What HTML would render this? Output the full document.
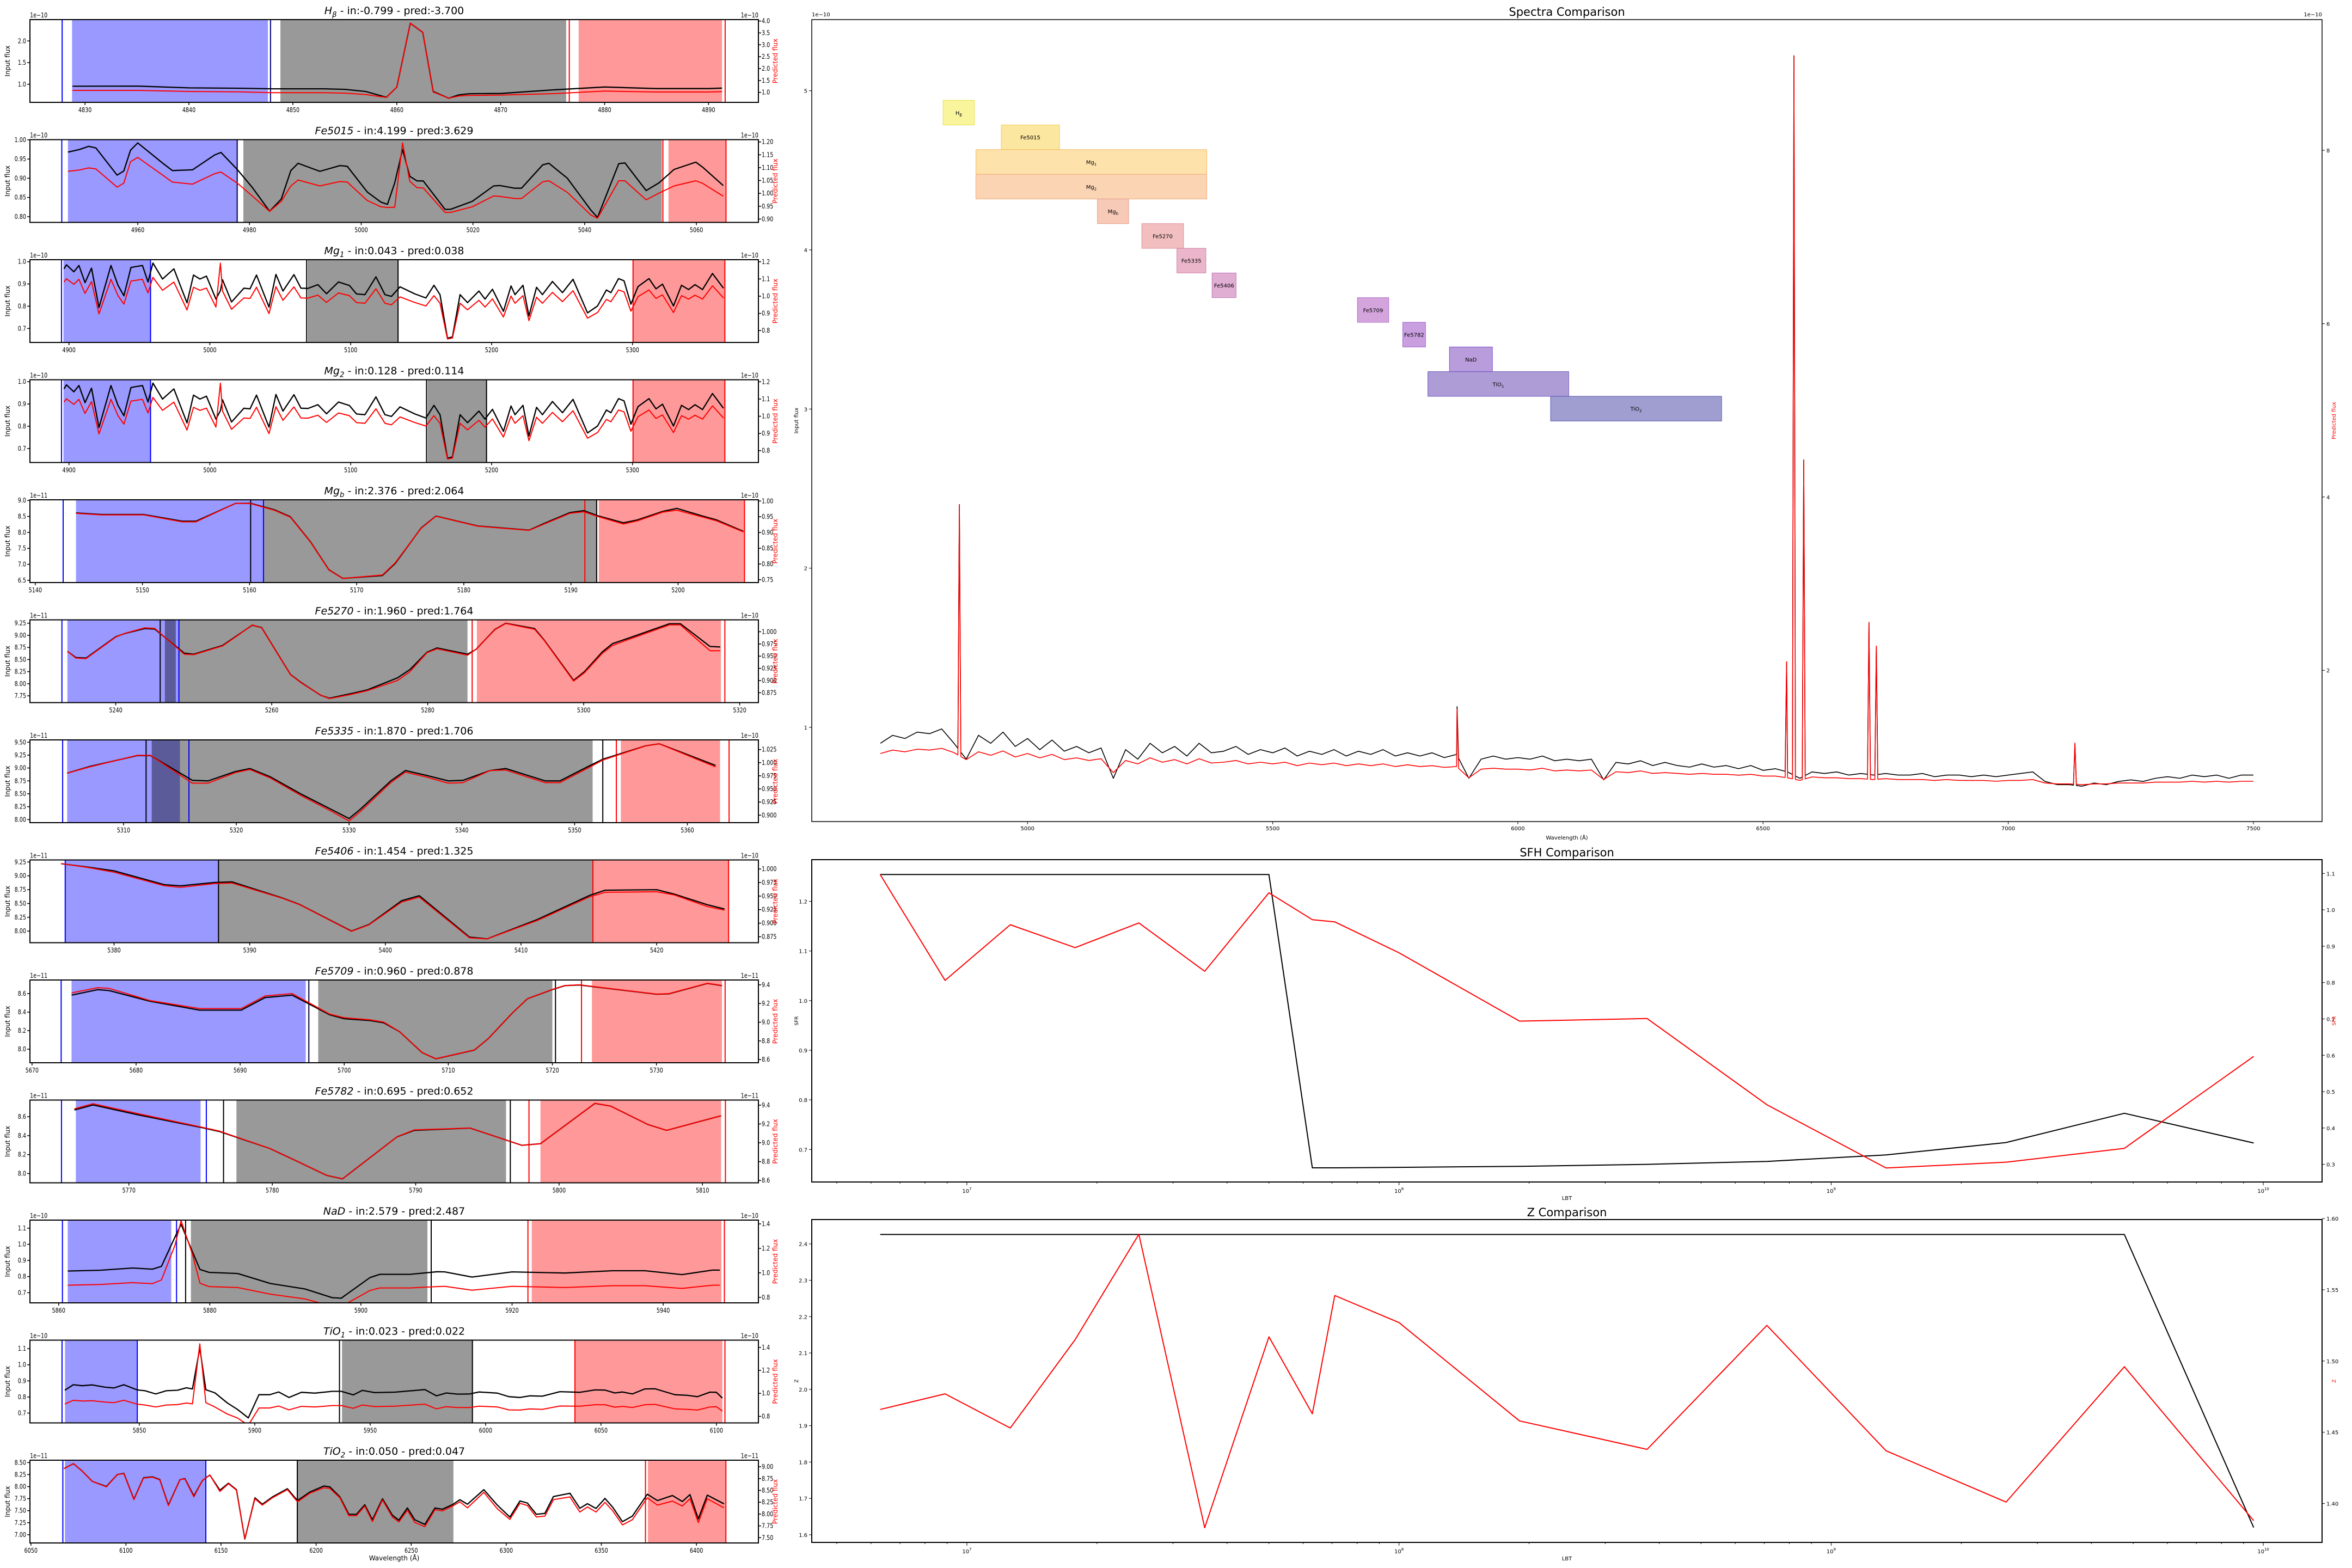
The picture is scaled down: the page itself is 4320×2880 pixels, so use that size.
<!DOCTYPE html>
<html><head><meta charset="utf-8"><title>Index comparison</title>
<style>html,body{margin:0;padding:0;background:#fff}svg{display:block}text{font-family:"DejaVu Sans","Liberation Sans",sans-serif}</style>
</head><body>
<svg id="fig" xmlns="http://www.w3.org/2000/svg" width="4320" height="2880" viewBox="0 0 4320 2880"><rect width="4320" height="2880" fill="#fff"/></svg>
<script>
// ---------- Left panel data ----------
const hbLam=[4828.8,4835,4840,4845,4848,4853,4855,4857,4859,4860,4861.3,4862.5,4863.5,4865,4866,4867,4870,4875,4880,4885,4890,4891.3];
const hbBlk=[0.954,0.958,0.916,0.908,0.895,0.895,0.883,0.833,0.699,0.933,2.41,2.20,0.833,0.678,0.757,0.782,0.787,0.870,0.937,0.900,0.900,0.912];
const hbRed=[1.084,1.084,1.038,1.023,0.985,0.985,0.970,0.909,0.787,1.221,3.909,3.529,1.015,0.756,0.848,0.871,0.886,0.947,1.053,1.015,1.015,1.030];
const feaLam=[4947.5,4949.6,4951.2,4952.5,4956.3,4957.5,4958.7,4960.0,4964.4,4966.2,4969.8,4973.8,4974.9,4977.8,4980.5,4983.6,4985.7,4987.4,4988.7,4992.6,4996.2,4997.5,5001.1,5003.5,5004.7,5006.0,5007.4,5008.7,5010.0,5011.1,5015.0,5016.0,5019.9,5023.7,5024.8,5027.5,5028.7,5032.5,5033.6,5036.9,5041.1,5042.3,5046.1,5047.2,5051.0,5053.3,5056.0,5059.9,5061.1,5064.8];
const feaBlk=[0.968,0.975,0.983,0.979,0.908,0.919,0.973,0.992,0.940,0.920,0.922,0.961,0.967,0.923,0.876,0.814,0.846,0.920,0.939,0.918,0.933,0.931,0.864,0.838,0.832,0.888,0.975,0.905,0.893,0.893,0.819,0.819,0.840,0.880,0.881,0.874,0.874,0.935,0.939,0.900,0.817,0.798,0.938,0.940,0.868,0.888,0.923,0.942,0.929,0.881];
const feaRed=[1.086,1.091,1.099,1.095,1.024,1.040,1.123,1.140,1.072,1.044,1.036,1.077,1.083,1.040,0.990,0.930,0.969,1.029,1.052,1.029,1.046,1.044,0.972,0.948,0.945,0.946,1.196,1.047,1.022,1.021,0.926,0.926,0.948,0.990,0.988,0.980,0.980,1.045,1.049,1.004,0.916,0.903,1.049,1.049,0.975,1.001,1.029,1.049,1.039,0.989];
const mgLam=[4896.5,4898.2,4903.5,4907.1,4911.4,4916.0,4921.3,4929.8,4934.8,4939.0,4944.0,4952.2,4956.1,4959.6,4966.4,4974.5,4983.8,4988.4,4993.0,4997.6,5004.3,5007.5,5009.0,5015.4,5024.2,5028.5,5033.1,5042.0,5046.9,5051.9,5059.7,5064.7,5069.7,5076.7,5082.8,5091.3,5099.1,5104.1,5110.1,5117.9,5124.3,5128.9,5135.0,5145.6,5153.4,5159.1,5163.4,5168.7,5172.2,5177.6,5182.9,5191.0,5195.3,5200.6,5208.4,5213.8,5216.6,5222.3,5226.5,5231.9,5236.1,5243.2,5250.3,5257.8,5268.1,5275.2,5281.5,5284.7,5290.1,5294.0,5298.9,5303.9,5311.7,5316.7,5321.3,5329.1,5334.8,5339.8,5344.4,5349.7,5356.8,5364.6];
const mgBlk=[0.968,0.986,0.955,0.983,0.906,0.971,0.794,0.983,0.894,0.847,0.974,0.983,0.909,0.994,0.922,0.968,0.815,0.940,0.922,0.935,0.832,0.870,0.919,0.819,0.881,0.878,0.940,0.796,0.943,0.868,0.942,0.881,0.880,0.897,0.856,0.909,0.893,0.855,0.852,0.932,0.852,0.844,0.887,0.855,0.837,0.894,0.852,0.656,0.662,0.852,0.816,0.868,0.832,0.876,0.777,0.891,0.852,0.894,0.756,0.885,0.852,0.911,0.861,0.921,0.770,0.801,0.873,0.861,0.924,0.914,0.809,0.888,0.924,0.878,0.899,0.801,0.894,0.875,0.897,0.875,0.947,0.881];
const mgRed=[1.082,1.101,1.069,1.098,1.016,1.085,0.897,1.098,1.003,0.954,1.088,1.098,1.019,1.109,1.034,1.082,0.920,1.052,1.034,1.047,0.937,1.192,1.030,0.924,0.990,0.987,1.052,0.899,1.055,0.976,1.054,0.990,0.989,1.006,0.964,1.019,1.003,0.963,0.959,1.043,0.959,0.950,0.996,0.963,0.943,1.003,0.959,0.751,0.757,0.959,0.921,0.976,0.937,0.984,0.879,1.001,0.959,1.003,0.858,0.994,0.959,1.022,0.968,1.032,0.872,0.905,0.981,0.968,1.036,1.025,0.913,0.997,1.036,0.987,1.008,0.905,1.003,0.983,1.006,0.983,1.060,0.990];
const mgbLam=[5143.8,5146.2,5150.1,5153.7,5155.0,5158.7,5160.1,5162.3,5163.8,5165.7,5167.4,5168.7,5172.4,5173.6,5176.0,5177.4,5181.3,5186.1,5187.5,5189.9,5191.2,5192.6,5194.9,5196.2,5198.6,5199.9,5202.2,5203.6,5206.1];
const mgbBlk=[8.61,8.56,8.56,8.35,8.35,8.91,8.91,8.71,8.49,7.70,6.83,6.56,6.65,7.03,8.13,8.51,8.20,8.07,8.28,8.62,8.68,8.51,8.30,8.39,8.66,8.75,8.52,8.39,8.03];
const mgbRed=[0.961,0.956,0.956,0.934,0.934,0.993,0.992,0.971,0.949,0.869,0.781,0.754,0.765,0.804,0.913,0.952,0.920,0.907,0.927,0.961,0.966,0.950,0.927,0.937,0.965,0.971,0.950,0.937,0.902];
const fe70Lam=[5233.8,5234.9,5236.2,5240.0,5241.2,5243.7,5245.0,5248.8,5250.0,5253.7,5255.6,5257.5,5258.7,5262.4,5263.9,5266.3,5267.4,5270.0,5272.2,5276.1,5277.7,5279.9,5281.2,5285.1,5286.2,5288.6,5290.0,5293.7,5294.9,5298.7,5300.1,5302.4,5303.7,5305.9,5311.0,5312.4,5316.2,5317.5];
const fe70Blk=[8.67,8.54,8.53,8.97,9.04,9.14,9.13,8.63,8.61,8.79,9.00,9.21,9.16,8.19,8.01,7.76,7.70,7.79,7.87,8.12,8.29,8.65,8.74,8.61,8.71,9.12,9.25,9.14,8.91,8.07,8.25,8.66,8.83,8.95,9.24,9.24,8.77,8.76];
const fe70Red=[0.960,0.946,0.945,0.989,0.997,1.008,1.007,0.954,0.953,0.971,0.992,1.014,1.008,0.912,0.894,0.870,0.863,0.871,0.879,0.900,0.918,0.957,0.965,0.952,0.964,1.004,1.017,1.005,0.983,0.899,0.916,0.956,0.972,0.985,1.014,1.014,0.961,0.961];
const fe35Lam=[5305.0,5307.0,5311.2,5312.4,5316.1,5317.5,5319.9,5321.2,5323.0,5325.7,5328.3,5330.0,5331.0,5333.7,5335.0,5336.8,5338.8,5340.1,5342.5,5343.9,5347.4,5348.7,5351.3,5352.5,5356.3,5357.5,5362.5];
const fe35Blk=[8.90,9.03,9.24,9.24,8.76,8.75,8.93,8.99,8.83,8.50,8.21,8.02,8.20,8.75,8.95,8.86,8.75,8.76,8.95,8.99,8.75,8.75,9.04,9.17,9.43,9.47,9.05];
const fe35Red=[0.980,0.992,1.014,1.014,0.961,0.961,0.981,0.987,0.971,0.938,0.909,0.889,0.907,0.962,0.982,0.973,0.961,0.962,0.985,0.986,0.962,0.962,0.991,1.005,1.032,1.036,0.992];
const fe06Lam=[5376.1,5378.0,5380.0,5383.7,5384.9,5387.4,5388.7,5392.4,5393.7,5397.5,5398.8,5401.2,5402.5,5406.2,5407.5,5411.2,5415.1,5416.2,5420.0,5421.3,5423.7,5425.0];
const fe06Blk=[9.22,9.16,9.09,8.84,8.82,8.88,8.89,8.60,8.48,8.00,8.12,8.55,8.64,7.89,7.86,8.21,8.65,8.74,8.75,8.67,8.48,8.40];
const fe06Red=[1.010,1.003,0.994,0.969,0.966,0.973,0.974,0.946,0.934,0.885,0.897,0.939,0.948,0.873,0.871,0.905,0.949,0.957,0.958,0.952,0.931,0.924];
const fe09Lam=[5673.8,5676.3,5677.4,5681.3,5686.1,5690.1,5692.4,5695.0,5698.6,5700.0,5702.5,5703.8,5705.3,5707.5,5708.8,5712.5,5713.8,5716.2,5717.6,5720.0,5721.2,5722.6,5730.0,5731.2,5734.9,5736.3];
const fe09Blk=[8.583,8.642,8.632,8.518,8.421,8.421,8.557,8.582,8.371,8.329,8.309,8.285,8.190,7.962,7.897,7.991,8.110,8.395,8.544,8.643,8.685,8.692,8.593,8.597,8.709,8.685];
const fe09Red=[9.314,9.370,9.363,9.233,9.146,9.146,9.282,9.306,9.087,9.048,9.026,9.001,8.900,8.673,8.609,8.703,8.821,9.104,9.252,9.351,9.393,9.400,9.301,9.306,9.417,9.393];
const fe82Lam=[5766.2,5767.5,5770.8,5775.0,5776.3,5779.8,5781.6,5783.8,5784.9,5788.7,5789.9,5793.8,5797.4,5798.7,5802.5,5803.6,5806.2,5807.5,5811.3];
const fe82Blk=[8.671,8.724,8.615,8.488,8.444,8.266,8.139,7.980,7.944,8.388,8.456,8.480,8.298,8.315,8.741,8.712,8.517,8.456,8.610];
const fe82Red=[9.361,9.415,9.304,9.169,9.125,8.941,8.813,8.654,8.617,9.064,9.137,9.157,8.973,8.990,9.420,9.390,9.194,9.133,9.287];
const nadLam=[5861.2,5865.5,5869.8,5872.4,5873.6,5875.4,5876.2,5877.7,5878.7,5879.9,5883.7,5888.0,5892.6,5896.2,5897.4,5901.2,5902.5,5906.5,5910.1,5911.1,5914.7,5920.0,5927.0,5933.3,5937.6,5942.5,5946.5,5947.5];
const nadBlk=[0.834,0.839,0.853,0.846,0.863,1.046,1.124,0.954,0.844,0.826,0.819,0.757,0.723,0.669,0.666,0.794,0.814,0.814,0.830,0.829,0.797,0.829,0.822,0.836,0.836,0.812,0.840,0.840];
const nadRed=[0.899,0.905,0.920,0.912,0.942,1.228,1.426,1.153,0.916,0.888,0.880,0.826,0.787,0.727,0.725,0.856,0.877,0.877,0.888,0.890,0.858,0.890,0.880,0.895,0.895,0.873,0.899,0.899];
const tio1Lam=[5817.7,5821.4,5825.3,5829.6,5835.1,5839.0,5843.3,5849.1,5852.4,5857.1,5861.7,5866.5,5870.4,5873.0,5876.2,5878.8,5882.7,5888.1,5892.5,5897.2,5901.8,5906.5,5910.4,5914.8,5920.2,5926.0,5933.6,5937.5,5942.7,5946.6,5952.0,5960.7,5973.7,5978.7,5983.0,5987.8,5993.2,5997.1,6005.1,6010.1,6014.9,6019.2,6024.6,6032.2,6040.9,6047.4,6051.7,6056.0,6059.3,6063.6,6069.0,6073.4,6082.0,6087.4,6091.8,6097.2,6100.0,6102.6];
const tio1Blk=[0.842,0.876,0.870,0.875,0.861,0.856,0.876,0.844,0.839,0.819,0.839,0.842,0.857,0.850,1.104,0.845,0.826,0.763,0.723,0.670,0.814,0.814,0.831,0.797,0.829,0.824,0.835,0.835,0.813,0.841,0.827,0.830,0.846,0.807,0.825,0.818,0.819,0.831,0.824,0.802,0.797,0.807,0.805,0.833,0.829,0.844,0.843,0.825,0.831,0.819,0.850,0.851,0.814,0.810,0.802,0.830,0.829,0.793];
const tio1Red=[0.907,0.940,0.933,0.936,0.924,0.919,0.940,0.906,0.899,0.882,0.899,0.902,0.916,0.909,1.431,0.919,0.882,0.820,0.786,0.723,0.873,0.873,0.890,0.856,0.887,0.882,0.894,0.894,0.870,0.899,0.885,0.889,0.906,0.865,0.884,0.877,0.877,0.889,0.882,0.856,0.855,0.865,0.861,0.890,0.889,0.901,0.901,0.880,0.887,0.877,0.901,0.904,0.865,0.861,0.855,0.882,0.884,0.846];
const tio2Lam=[6067.4,6072.4,6077.1,6082.3,6089.7,6095.5,6098.9,6104.2,6109.2,6113.9,6117.8,6122.3,6128.4,6131.0,6135.7,6140.2,6144.1,6149.4,6153.9,6158.1,6162.5,6167.8,6171.7,6177.0,6184.9,6190.2,6196.7,6204.1,6207.2,6212.5,6217.2,6221.2,6225.6,6229.6,6234.9,6240.1,6243.5,6248.0,6251.9,6257.2,6262.5,6266.4,6271.7,6275.6,6279.6,6288.2,6295.3,6301.9,6307.2,6311.1,6315.8,6320.3,6324.8,6333.5,6338.7,6342.7,6347.2,6351.9,6355.9,6361.1,6366.3,6374.2,6379.5,6387.4,6392.6,6396.6,6401.0,6405.7,6414.5];
const tio2Blk=[8.375,8.477,8.318,8.109,8.002,8.253,8.275,7.736,8.184,8.203,8.146,7.615,8.146,8.165,7.804,8.127,8.241,7.926,8.070,7.937,6.910,7.767,7.633,7.785,7.956,7.709,7.888,8.013,7.994,7.785,7.424,7.424,7.622,7.310,7.747,7.405,7.302,7.557,7.310,7.215,7.557,7.530,7.625,7.728,7.633,7.937,7.614,7.367,7.701,7.659,7.424,7.443,7.793,7.861,7.550,7.645,7.546,7.755,7.576,7.272,7.386,7.842,7.709,7.815,7.690,7.834,7.329,7.823,7.641];
const tio2Red=[8.961,9.066,8.903,8.691,8.575,8.838,8.853,8.304,8.760,8.780,8.722,8.177,8.730,8.741,8.362,8.710,8.826,8.478,8.641,8.505,7.474,8.324,8.189,8.343,8.517,8.258,8.440,8.556,8.544,8.343,7.964,7.964,8.169,7.841,8.297,7.937,7.833,8.080,7.821,7.733,8.092,8.065,8.169,8.258,8.131,8.459,8.111,7.887,8.227,8.181,7.937,7.957,8.304,8.362,8.042,8.150,8.042,8.247,8.073,7.771,7.879,8.343,8.189,8.274,8.169,8.324,7.821,8.324,8.131];

const titleSym=[['H','β'],['Fe5015',''],['Mg','1'],['Mg','2'],['Mg','b'],['Fe5270',''],['Fe5335',''],['Fe5406',''],['Fe5709',''],['Fe5782',''],['NaD',''],['TiO','1'],['TiO','2']];
const titleIn=['-0.799','4.199','0.043','0.128','2.376','1.960','1.870','1.454','0.960','0.695','2.579','0.023','0.050'];
const titlePred=['-3.700','3.629','0.038','0.114','2.064','1.764','1.706','1.325','0.878','0.652','2.487','0.022','0.047'];

// ---------- Right column data ----------
const specBlk=[0.90,0.95,0.93,0.97,0.96,0.99,0.90,0.80,0.95,0.90,0.97,0.88,0.93,0.86,0.92,0.85,0.88,0.84,0.87,0.68,0.86,0.80,0.90,0.84,0.88,0.82,0.90,0.84,0.85,0.88,0.83,0.86,0.84,0.87,0.82,0.85,0.83,0.86,0.82,0.85,0.83,0.86,0.82,0.84,0.82,0.84,0.81,0.83,0.68,0.80,0.82,0.80,0.81,0.80,0.82,0.79,0.80,0.79,0.80,0.67,0.78,0.77,0.79,0.76,0.78,0.76,0.75,0.77,0.75,0.76,0.74,0.76,0.73,0.74,0.72,0.68,0.72,0.71,0.72,0.70,0.71,0.70,0.71,0.70,0.70,0.71,0.69,0.70,0.70,0.69,0.70,0.69,0.70,0.71,0.72,0.66,0.64,0.64,0.63,0.65,0.64,0.66,0.67,0.66,0.68,0.69,0.68,0.70,0.69,0.70,0.68,0.70,0.70];
const specRed=[1.04,1.08,1.06,1.09,1.08,1.10,1.05,0.97,1.06,1.02,1.07,1.00,1.04,0.99,1.03,0.97,0.99,0.96,0.98,0.82,0.96,0.92,0.99,0.94,0.97,0.92,0.98,0.93,0.94,0.96,0.92,0.94,0.92,0.94,0.90,0.93,0.91,0.93,0.90,0.92,0.90,0.92,0.89,0.91,0.89,0.90,0.88,0.89,0.76,0.86,0.87,0.86,0.86,0.85,0.87,0.84,0.85,0.84,0.85,0.74,0.83,0.82,0.84,0.81,0.82,0.81,0.80,0.81,0.80,0.80,0.79,0.80,0.78,0.78,0.76,0.73,0.77,0.76,0.76,0.75,0.75,0.74,0.75,0.74,0.74,0.74,0.73,0.74,0.73,0.73,0.73,0.72,0.73,0.73,0.74,0.70,0.69,0.69,0.68,0.69,0.69,0.70,0.70,0.70,0.71,0.71,0.71,0.72,0.71,0.72,0.71,0.72,0.72];
const lineLam=[4861,5876,6548,6563,6583,6716,6731,7136];
const lineBlk=[2.40,1.13,1.41,5.22,2.68,1.66,1.51,0.90];
const lineRed=[3.91,1.55,2.10,9.09,4.43,2.55,2.28,1.16];
const idxNames=[['H','β'],['Fe5015',''],['Mg','1'],['Mg','2'],['Mg','b'],['Fe5270',''],['Fe5335',''],['Fe5406',''],['Fe5709',''],['Fe5782',''],['NaD',''],['TiO','1'],['TiO','2']];
const idxStart=[4827.8,4946.4,4894.7,4894.7,5142.6,5233.1,5304.6,5376.4,5672.8,5765.3,5860.5,5816.5,6066.8];
const idxEnd=[4891.6,5065.2,5365.4,5365.4,5206.2,5318.1,5363.7,5425.3,5736.6,5811.6,5948.1,6103.7,6415.5];
const idxRow=[0,1,2,3,4,5,6,7,8,9,10,11,12];
const idxColor=['#f8f59c','#fbe79f','#fde2ab','#fbd4b4','#f7c9b7','#f2bfc0','#ebb6ca','#e0add3','#d4a4dc','#c99fdf','#b99cdc','#ae9cd6','#a09ed0'];
const idxEdge=['#e6e04a','#f0cc55','#f5b860','#f0a878','#e89a8a','#e08a94','#d080a8','#c078b8','#b070c8','#9a60cc','#7f50c8','#6e55c0','#5656b0'];

const lbt=[6.3e6,8.9e6,1.26e7,1.78e7,2.5e7,3.55e7,5.0e7,6.3e7,7.1e7,1.0e8,1.9e8,3.75e8,7.1e8,1.34e9,2.54e9,4.77e9,9.5e9];
const sfhIn=[1.254,1.254,1.254,1.254,1.254,1.254,1.254,0.663,0.663,0.664,0.666,0.670,0.676,0.689,0.714,0.773,0.713];
const sfhPred=[1.097,0.806,0.959,0.896,0.964,0.831,1.047,0.973,0.967,0.882,0.694,0.701,0.464,0.290,0.306,0.344,0.597];
const zIn=[2.426,2.426,2.426,2.426,2.426,2.426,2.426,2.426,2.426,2.426,2.426,2.426,2.426,2.426,2.426,2.426,1.620];
const zPred=[1.466,1.477,1.453,1.515,1.589,1.383,1.517,1.463,1.546,1.527,1.458,1.438,1.525,1.437,1.401,1.496,1.388];

// ---------- helpers ----------
const NS='http://www.w3.org/2000/svg';
const svg=document.getElementById('fig');
function mk(tag,attrs,name,parent){
  const el=document.createElementNS(NS,tag);
  for(const k in attrs) el.setAttribute(k,attrs[k]);
  
  
  (parent||svg).appendChild(el);
  return el;
}
function txt(x,y,s,o,name,parent){
  const t=mk('text',{x:x,y:y,'font-size':o.size||12,fill:o.fill||'#000','text-anchor':o.anchor||'start'},name,parent);
  if(o.rot) t.setAttribute('transform','rotate('+o.rot+' '+x+' '+y+')');
  if(o.cond){t.setAttribute('x',0);t.setAttribute('y',0);t.setAttribute('transform','translate('+x+' '+y+') scale('+o.cond+' 1)');t.setAttribute('font-family','"Liberation Sans",sans-serif');}
  t.textContent=s;
  return t;
}
function symText(x,y,sym,rest,size,anchor,name,parent,italic){
  const t=mk('text',{x:x,y:y,'font-size':size,'text-anchor':anchor||'middle'},name,parent);
  const a=document.createElementNS(NS,'tspan');a.textContent=sym[0];if(italic)a.setAttribute('font-style','italic');t.appendChild(a);
  if(sym[1]){const b=document.createElementNS(NS,'tspan');b.textContent=sym[1];b.setAttribute('font-size',size*0.7);b.setAttribute('dy',size*0.25);if(italic)b.setAttribute('font-style','italic');t.appendChild(b);
    if(rest){const c=document.createElementNS(NS,'tspan');c.textContent=rest;c.setAttribute('dy',-size*0.25);t.appendChild(c);}}
  else if(rest){const c=document.createElementNS(NS,'tspan');c.textContent=rest;t.appendChild(c);}
  return t;
}
function rng(a,b,s){const r=[];for(let v=a;v<=b+s*1e-6;v+=s)r.push(Math.round(v*1e6)/1e6);return r;}
let clipN=0;
function clip(x,y,w,h){const id='c'+(clipN++);const cp=mk('clipPath',{id:id},'clip-region');mk('rect',{x:x,y:y,width:w,height:h},'clip-rect',cp);return 'url(#'+id+')';}
function poly(xs,ys,fx,fy,stroke,sw,name,parent,cp){
  const n=Math.min(xs.length,ys.length);let d='';
  for(let i=0;i<n;i++)d+=(i?'L':'M')+fx(xs[i]).toFixed(1)+' '+fy(ys[i]).toFixed(1);
  const p=mk('path',{d:d,fill:'none',stroke:stroke,'stroke-width':sw,'stroke-linejoin':'round'},name,parent);
  if(cp)p.setAttribute('clip-path',cp);
  return p;
}

// ---------- left panels ----------
const B='#9999ff',G='#999999',Rd='#ff9999',D='#5b5b9a';
const panels=[
 {lam:hbLam,blk:hbBlk,red:hbRed,xlim:[4824.7,4894.8],xt:rng(4830,4890,10),yl:[0.582,2.494],ylt:[1.0,1.5,2.0],yr:[0.58,4.06],yrt:rng(1,4,0.5),dl:1,dr:1,ol:'1e−10',or:'1e−10',
  rects:[[4828.75,4847.6,B],[4848.8,4876.3,G],[4877.5,4891.3,Rd]],vl:[[4827.8,'#0000ff'],[4847.85,'#000080'],[4876.6,'#ff0000'],[4891.6,'#ff0000']]},
 {lam:feaLam,blk:feaBlk,red:feaRed,xlim:[4940.7,5071.1],xt:rng(4960,5060,20),yl:[0.785,1.0005],ylt:rng(0.8,1.0,0.05),yr:[0.887,1.209],yrt:rng(0.9,1.2,0.05),dl:2,dr:2,ol:'1e−10',or:'1e−10',
  rects:[[4947.5,4977.8,B],[4978.9,5053.8,G],[5055.0,5065.2,Rd]],vl:[[4946.4,'#0000ff'],[4977.8,'#000040'],[5054.0,'#ff0000'],[5065.3,'#ff0000']]},
 {lam:mgLam,blk:mgBlk,red:mgRed,xlim:[4872.3,5389.4],xt:rng(4900,5300,100),yl:[0.637,1.009],ylt:rng(0.7,1.0,0.1),yr:[0.731,1.212],yrt:rng(0.8,1.2,0.1),dl:1,dr:1,ol:'1e−10',or:'1e−10',
  rects:[[4896.1,4957.9,B],[5069.4,5133.6,G],[5300.4,5365.4,Rd]],vl:[[4894.7,'#0000ff'],[4957.9,'#0000ff'],[5068.7,'#000000'],[5133.6,'#000000'],[5300.4,'#ff0000'],[5365.6,'#ff0000']]},
 {lam:mgLam,blk:mgBlk,red:mgRed,xlim:[4872.3,5389.4],xt:rng(4900,5300,100),yl:[0.637,1.009],ylt:rng(0.7,1.0,0.1),yr:[0.731,1.212],yrt:rng(0.8,1.2,0.1),dl:1,dr:1,ol:'1e−10',or:'1e−10',
  rects:[[4896.1,4957.9,B],[5154.5,5196.4,G],[5300.4,5365.4,Rd]],vl:[[4894.7,'#0000ff'],[4957.9,'#0000ff'],[5153.8,'#000000'],[5196.4,'#000000'],[5300.4,'#ff0000'],[5365.6,'#ff0000']]},
 {lam:mgbLam,blk:mgbBlk,red:mgbRed,xlim:[5139.5,5207.5],xt:rng(5140,5200,10),yl:[6.43,9.02],ylt:rng(6.5,9.0,0.5),yr:[0.741,1.004],yrt:rng(0.75,1.0,0.05),dl:1,dr:2,ol:'1e−11',or:'1e−10',
  rects:[[5143.8,5161.3,B],[5161.3,5192.4,G],[5192.6,5206.2,Rd]],vl:[[5142.6,'#0000ff'],[5160.1,'#000000'],[5161.3,'#0000ff'],[5191.3,'#ff0000'],[5192.4,'#000000'],[5206.2,'#ff0000']]},
 {lam:fe70Lam,blk:fe70Blk,red:fe70Red,xlim:[5229.0,5322.4],xt:rng(5240,5320,20),yl:[7.61,9.32],ylt:rng(7.75,9.25,0.25),yr:[0.8548,1.0244],yrt:rng(0.875,1.0,0.025),dl:2,dr:3,ol:'1e−11',or:'1e−10',
  rects:[[5233.8,5248.1,B],[5248.1,5285.1,G],[5246.3,5247.7,D],[5286.3,5317.6,Rd]],vl:[[5233.1,'#0000ff'],[5245.7,'#000000'],[5248.1,'#0000ff'],[5285.7,'#ff0000'],[5318.1,'#ff0000']]},
 {lam:fe35Lam,blk:fe35Blk,red:fe35Red,xlim:[5301.7,5366.3],xt:rng(5310,5360,10),yl:[7.94,9.545],ylt:rng(8.0,9.5,0.25),yr:[0.8858,1.0434],yrt:rng(0.9,1.025,0.025),dl:2,dr:3,ol:'1e−11',or:'1e−10',
  rects:[[5305.0,5315.0,B],[5315.0,5351.6,G],[5312.5,5315.0,D],[5354.1,5362.9,Rd]],vl:[[5304.6,'#0000ff'],[5312.0,'#000000'],[5315.8,'#0000ff'],[5352.5,'#000000'],[5353.7,'#ff0000'],[5363.7,'#ff0000']]},
 {lam:fe06Lam,blk:fe06Blk,red:fe06Red,xlim:[5373.8,5427.5],xt:rng(5380,5420,10),yl:[7.79,9.2875],ylt:rng(8.0,9.25,0.25),yr:[0.864,1.0166],yrt:rng(0.875,1.0,0.025),dl:2,dr:3,ol:'1e−11',or:'1e−10',
  rects:[[5376.4,5387.7,B],[5387.7,5415.3,G],[5415.3,5425.3,Rd]],vl:[[5376.4,'#0000ff'],[5387.7,'#000000'],[5415.3,'#ff0000'],[5425.3,'#ff0000']]},
 {lam:fe09Lam,blk:fe09Blk,red:fe09Red,xlim:[5669.8,5739.8],xt:rng(5670,5730,10),yl:[7.854,8.746],ylt:rng(8.0,8.6,0.2),yr:[8.566,9.452],yrt:rng(8.6,9.4,0.2),dl:1,dr:1,ol:'1e−11',or:'1e−11',
  rects:[[5673.8,5696.3,B],[5697.5,5720.0,G],[5723.8,5736.3,Rd]],vl:[[5672.8,'#0000ff'],[5696.6,'#000040'],[5720.3,'#000000'],[5722.8,'#ff0000'],[5736.6,'#ff0000']]},
 {lam:fe82Lam,blk:fe82Blk,red:fe82Red,xlim:[5763.1,5813.9],xt:rng(5770,5810,10),yl:[7.902,8.776],ylt:rng(8.0,8.6,0.2),yr:[8.575,9.454],yrt:rng(8.6,9.4,0.2),dl:1,dr:1,ol:'1e−11',or:'1e−11',
  rects:[[5766.3,5775.0,B],[5777.5,5796.3,G],[5798.7,5811.3,Rd]],vl:[[5765.3,'#0000ff'],[5775.4,'#0000ff'],[5776.6,'#000000'],[5796.6,'#000000'],[5797.9,'#ff0000'],[5811.6,'#ff0000']]},
 {lam:nadLam,blk:nadBlk,red:nadRed,xlim:[5856.2,5952.6],xt:rng(5860,5940,20),yl:[0.637,1.15],ylt:rng(0.7,1.1,0.1),yr:[0.755,1.431],yrt:rng(0.8,1.4,0.2),dl:1,dr:1,ol:'1e−10',or:'1e−10',
  rects:[[5861.2,5874.9,B],[5877.5,5908.8,G],[5922.6,5947.7,Rd]],vl:[[5860.5,'#0000ff'],[5875.6,'#0000ff'],[5876.8,'#000000'],[5909.3,'#000000'],[5922.1,'#ff0000'],[5948.1,'#ff0000']]},
 {lam:tio1Lam,blk:tio1Blk,red:tio1Red,xlim:[5802.6,6118.2],xt:rng(5850,6100,50),yl:[0.639,1.153],ylt:rng(0.7,1.1,0.1),yr:[0.743,1.463],yrt:rng(0.8,1.4,0.2),dl:1,dr:1,ol:'1e−10',or:'1e−10',
  rects:[[5817.8,5849.1,B],[5937.8,5994.3,G],[6038.7,6102.6,Rd]],vl:[[5816.5,'#0000ff'],[5849.1,'#0000ff'],[5936.7,'#000000'],[5994.3,'#000000'],[6038.7,'#ff0000'],[6103.7,'#ff0000']]},
 {lam:tio2Lam,blk:tio2Blk,red:tio2Red,xlim:[6049.5,6432.6],xt:rng(6050,6400,50),yl:[6.829,8.549],ylt:rng(7.0,8.5,0.25),yr:[7.388,9.139],yrt:rng(7.5,9.0,0.25),dl:2,dr:2,ol:'1e−11',or:'1e−11',
  rects:[[6067.9,6142.0,B],[6190.1,6272.2,G],[6374.5,6415.5,Rd]],vl:[[6066.8,'#0000ff'],[6142.0,'#0000ff'],[6190.1,'#000000'],[6373.2,'#ff0000'],[6415.5,'#ff0000']]}
];
panels.forEach((p,i)=>{
  const L=55,R=1393,T=36+i*220.5,Bt=T+152;
  const g=mk('g',{},'index-panel-'+i);
  const fx=v=>L+(v-p.xlim[0])/(p.xlim[1]-p.xlim[0])*(R-L);
  const fyl=v=>Bt-(v-p.yl[0])/(p.yl[1]-p.yl[0])*(Bt-T);
  const fyr=v=>Bt-(v-p.yr[0])/(p.yr[1]-p.yr[0])*(Bt-T);
  const cp=clip(L,T,R-L,Bt-T);
  p.rects.forEach(r=>{const e=mk('rect',{x:fx(r[0]),y:T,width:Math.max(0,fx(r[1])-fx(r[0])),height:Bt-T,fill:r[2]},'passband',g);e.setAttribute('clip-path',cp);});
  p.vl.forEach(v=>mk('line',{x1:fx(v[0]),x2:fx(v[0]),y1:T,y2:Bt,stroke:v[1],'stroke-width':2},'band-edge-line',g));
  poly(p.lam,p.blk,fx,fyl,'#000',2.3,'input-flux-line',g,cp);
  poly(p.lam,p.red,fx,fyr,'#ff0000',2.0,'predicted-flux-line',g,cp);
  mk('rect',{x:L,y:T,width:R-L,height:Bt-T,fill:'none',stroke:'#000','stroke-width':2},'axes-frame',g);
  p.xt.forEach(v=>{const x=fx(v);mk('line',{x1:x,x2:x,y1:Bt,y2:Bt+5,stroke:'#000','stroke-width':1.5},'x-tick',g);txt(x,Bt+18,String(v),{size:12,anchor:'middle',cond:0.8},'x-tick-label',g);});
  p.ylt.forEach(v=>{const y=fyl(v);mk('line',{x1:L-5,x2:L,y1:y,y2:y,stroke:'#000','stroke-width':1.5},'y-tick',g);txt(L-7,y+4,v.toFixed(p.dl),{size:12,anchor:'end',cond:0.8},'y-tick-label',g);});
  p.yrt.forEach(v=>{const y=fyr(v);mk('line',{x1:R,x2:R+5,y1:y,y2:y,stroke:'#000','stroke-width':1.5},'y2-tick',g);txt(R+6,y+4,v.toFixed(p.dr),{size:12,cond:0.8},'y2-tick-label',g);});
  txt(L,T-4,p.ol,{size:12,cond:0.8},'y-offset-text',g);
  txt(R,T-4,p.or,{size:12,anchor:'end',cond:0.8},'y2-offset-text',g);
  txt(18,(T+Bt)/2,'Input flux',{size:12,anchor:'middle',rot:-90},'y-axis-title',g);
  txt(1428,(T+Bt)/2,'Predicted flux',{size:12,anchor:'middle',rot:-90,fill:'#ff0000'},'y2-axis-title',g);
  symText(724,T-10,titleSym[i],' - in:'+titleIn[i]+' - pred:'+titlePred[i],19,'middle','panel-title',g,true);
});
txt(724,2866,'Wavelength (Å)',{size:12,anchor:'middle'},'x-axis-title');

// ---------- spectra comparison ----------
(function(){
  const L=1491,R=4265,T=36,Bt=1509;
  const g=mk('g',{},'spectra-comparison');
  const xl=[4560,7640],yl=[0.408,5.447],yr=[0.255,9.508];
  const fx=v=>L+(v-xl[0])/(xl[1]-xl[0])*(R-L);
  const fyl=v=>Bt-(v-yl[0])/(yl[1]-yl[0])*(Bt-T);
  const fyr=v=>Bt-(v-yr[0])/(yr[1]-yr[0])*(Bt-T);
  const specLam=specBlk.map((_,i)=>4700+25*i);
  function interp(arr,l){const i=Math.min(arr.length-2,Math.max(0,Math.floor((l-4700)/25)));const t=(l-specLam[i])/25;return arr[i]*(1-t)+arr[i+1]*t;}
  function build(arr,peaks){const pts=specLam.map((l,i)=>[l,arr[i]]);lineLam.forEach((l,j)=>{pts.push([l-3,interp(arr,l-3)]);pts.push([l,peaks[j]]);pts.push([l+3,interp(arr,l+3)]);});pts.sort((a,b)=>a[0]-b[0]);return pts;}
  const bp=build(specBlk,lineBlk),rp=build(specRed,lineRed);
  idxNames.forEach((n,i)=>{
    const top=4.94-idxRow[i]*0.155, bot=top-0.155;
    const x0=fx(idxStart[i]),x1=fx(idxEnd[i]);
    mk('rect',{x:x0,y:fyl(top),width:x1-x0,height:fyl(bot)-fyl(top),fill:idxColor[i],stroke:idxEdge[i],'stroke-width':1},'index-box',g);
    symText((x0+x1)/2,(fyl(top)+fyl(bot))/2+4,n,'',10,'middle','index-box-label',g,false);
  });
  poly(bp.map(p=>p[0]),bp.map(p=>p[1]),fx,fyl,'#000',1.6,'input-spectrum-line',g);
  poly(rp.map(p=>p[0]),rp.map(p=>p[1]),fx,fyr,'#ff0000',1.6,'predicted-spectrum-line',g);
  mk('rect',{x:L,y:T,width:R-L,height:Bt-T,fill:'none',stroke:'#000','stroke-width':1.5},'axes-frame',g);
  rng(5000,7500,500).forEach(v=>{const x=fx(v);mk('line',{x1:x,x2:x,y1:Bt,y2:Bt+5,stroke:'#000'},'x-tick',g);txt(x,Bt+16,String(v),{size:10,anchor:'middle'},'x-tick-label',g);});
  [1,2,3,4,5].forEach(v=>{const y=fyl(v);mk('line',{x1:L-5,x2:L,y1:y,y2:y,stroke:'#000'},'y-tick',g);txt(L-8,y+4,String(v),{size:10,anchor:'end'},'y-tick-label',g);});
  [2,4,6,8].forEach(v=>{const y=fyr(v);mk('line',{x1:R,x2:R+5,y1:y,y2:y,stroke:'#000'},'y2-tick',g);txt(R+8,y+4,String(v),{size:10},'y2-tick-label',g);});
  txt(L,T-6,'1e−10',{size:10},'y-offset-text',g);
  txt(R,T-6,'1e−10',{size:10,anchor:'end'},'y2-offset-text',g);
  txt(1466,(T+Bt)/2,'Input flux',{size:10,anchor:'middle',rot:-90},'y-axis-title',g);
  txt(4290,(T+Bt)/2,'Predicted flux',{size:10,anchor:'middle',rot:-90,fill:'#ff0000'},'y2-axis-title',g);
  txt((L+R)/2,1542,'Wavelength (Å)',{size:10,anchor:'middle'},'x-axis-title',g);
  txt((L+R)/2,29,'Spectra Comparison',{size:21,anchor:'middle'},'chart-title',g);
})();

// ---------- SFH & Z ----------
function logPanel(T,Bt,yIn,yPred,yl,yr,lt,rt,dl,dr,title,ylab,name){
  const L=1491,R=4265;
  const g=mk('g',{},name);
  const lx=[6.641,10.136];
  const fx=v=>L+(Math.log10(v)-lx[0])/(lx[1]-lx[0])*(R-L);
  const fyl=v=>Bt-(v-yl[0])/(yl[1]-yl[0])*(Bt-T);
  const fyr=v=>Bt-(v-yr[0])/(yr[1]-yr[0])*(Bt-T);
  poly(lbt,yIn,fx,fyl,'#000',2,'input-line',g);
  poly(lbt,yPred,fx,fyr,'#ff0000',2,'predicted-line',g);
  mk('rect',{x:L,y:T,width:R-L,height:Bt-T,fill:'none',stroke:'#000','stroke-width':2},'axes-frame',g);
  for(let d=6;d<=10;d++){for(let k=1;k<=9;k++){const v=k*Math.pow(10,d);const lv=Math.log10(v);if(lv<lx[0]||lv>lx[1])continue;const x=fx(v);
    if(k===1){mk('line',{x1:x,x2:x,y1:Bt,y2:Bt+6,stroke:'#000'},'x-tick',g);
      const t=mk('text',{x:x,y:Bt+20,'font-size':10,'text-anchor':'middle'},'x-tick-label',g);t.textContent='10';const s=document.createElementNS(NS,'tspan');s.setAttribute('dy',-5);s.setAttribute('font-size',7);s.textContent=String(d);t.appendChild(s);}
    else mk('line',{x1:x,x2:x,y1:Bt,y2:Bt+3,stroke:'#000'},'x-minor-tick',g);}}
  lt.forEach(v=>{const y=fyl(v);mk('line',{x1:L-5,x2:L,y1:y,y2:y,stroke:'#000'},'y-tick',g);txt(L-8,y+4,v.toFixed(dl),{size:10,anchor:'end'},'y-tick-label',g);});
  rt.forEach(v=>{const y=fyr(v);mk('line',{x1:R,x2:R+5,y1:y,y2:y,stroke:'#000'},'y2-tick',g);txt(R+8,y+4,v.toFixed(dr),{size:10},'y2-tick-label',g);});
  txt(1466,(T+Bt)/2,ylab,{size:9,anchor:'middle',rot:-90},'y-axis-title',g);
  txt(4290,(T+Bt)/2,ylab,{size:9,anchor:'middle',rot:-90,fill:'#ff0000'},'y2-axis-title',g);
  txt((L+R)/2,Bt+33,'LBT',{size:10,anchor:'middle'},'x-axis-title',g);
  txt((L+R)/2,T-6,title,{size:21,anchor:'middle'},'chart-title',g);
}
logPanel(1579,2171,sfhIn,sfhPred,[0.6345,1.284],[0.2515,1.138],rng(0.7,1.2,0.1),rng(0.3,1.1,0.1),1,1,'SFH Comparison','SFR','sfh-comparison');
logPanel(2240,2833,zIn,zPred,[1.579,2.467],[1.3727,1.5993],rng(1.6,2.4,0.1),rng(1.4,1.6,0.05),1,2,'Z Comparison','Z','z-comparison');
</script>
</body></html>
